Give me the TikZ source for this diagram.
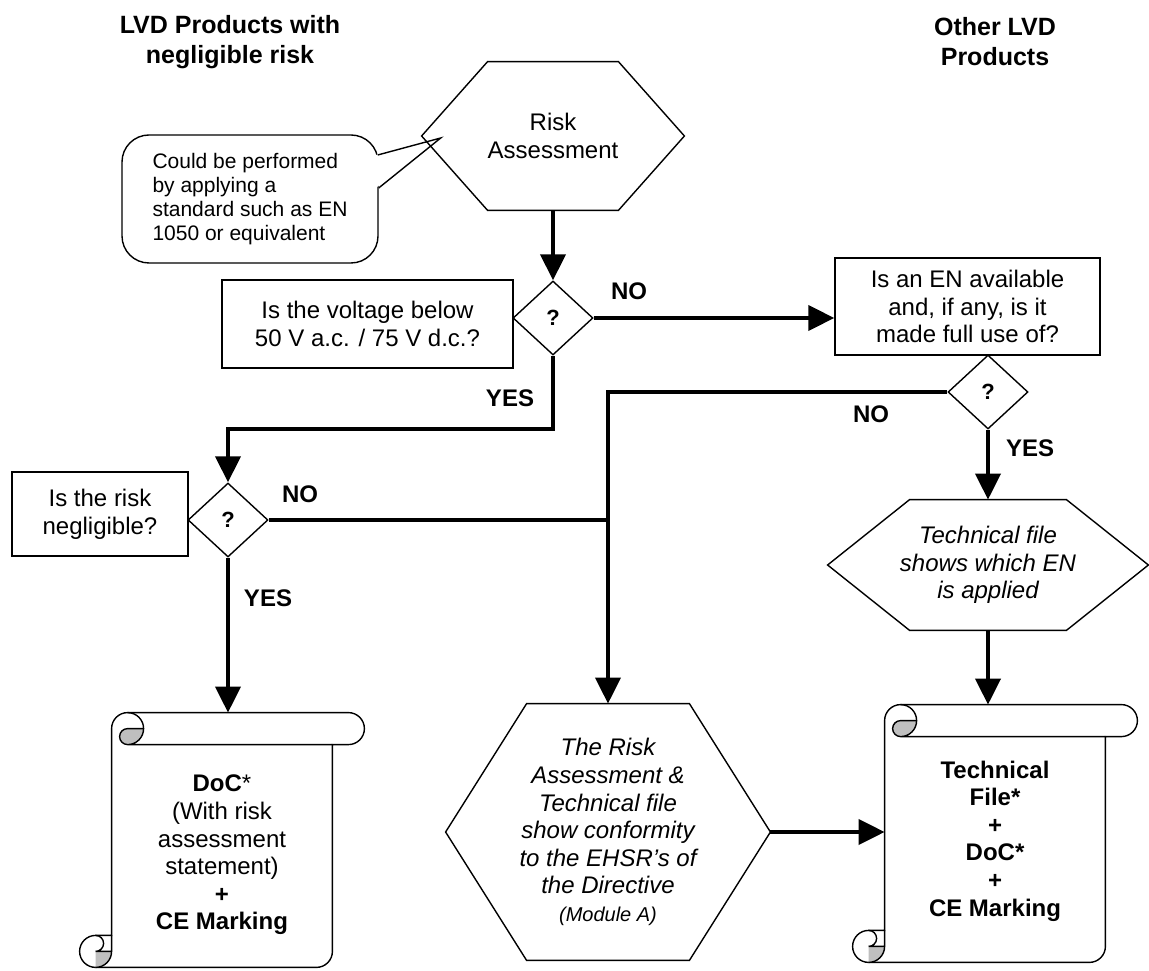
\documentclass[tikz,border=0pt]{standalone}
\usepackage{fontspec}
\setmainfont{Liberation Sans}
\usetikzlibrary{shapes.geometric,arrows.meta,calc}

\tikzset{
  shapeline/.style={line width=0.7pt},
  txt/.style={font=\fontsize{12}{13.8}\selectfont, align=center, inner sep=0pt},
  box/.style={draw, shapeline, rectangle, txt},
  query/.style={draw, shapeline, diamond, inner sep=0pt, minimum width=40pt, minimum height=37pt, font=\fontsize{11}{12}\selectfont\bfseries},
  answer/.style={font=\fontsize{12}{14}\selectfont\bfseries, inner sep=0pt},
  header/.style={font=\fontsize{12.5}{15}\selectfont\bfseries, align=center, inner sep=0pt},
  flow/.style={line width=2pt, -{Triangle[width=12.5pt,length=13pt]}},
  wire/.style={line width=2pt},
  curl/.style={fill=black!25},
}

% hexagon round a node: node name, chamfer
\newcommand{\hexframe}[2]{%
  \draw[shapeline] ($(#1.north west)+(#2,0)$) -- ($(#1.north east)+(-#2,0)$) -- (#1.east)
    -- ($(#1.south east)+(-#2,0)$) -- ($(#1.south west)+(#2,0)$) -- (#1.west) -- cycle;}

% scroll round a node (band and roll 16pt)
\newcommand{\scrollframe}[1]{%
  \draw[shapeline, fill=white] let \p1=(#1.south west), \p2=(#1.north east) in
    (\x1+16pt,\y1+16pt) -- (\x1+16pt,\y2-8pt) arc (180:90:8pt) -- (\x2-8pt,\y2)
    arc (90:-90:8pt) -- (\x2-16pt,\y2-16pt) -- (\x2-16pt,\y1+8pt) arc (0:-90:8pt)
    -- (\x1+8pt,\y1) arc (-90:-270:8pt) -- cycle;
  \fill[curl] let \p1=(#1.south west), \p2=(#1.north east) in
    (\x1+32pt,\y2-8pt) arc (0:-90:8pt) arc (-90:-270:4pt) -- cycle;
  \fill[curl] let \p1=(#1.south west) in
    (\x1+8pt,\y1+8pt) -- (\x1+16pt,\y1+8pt) arc (0:-90:8pt) -- cycle;
  \draw[shapeline] let \p1=(#1.south west), \p2=(#1.north east) in
    (\x1+24pt,\y2) arc (90:-90:8pt) arc (-90:-270:4pt) -- (\x1+32pt,\y2-8pt)
    (\x2-16pt,\y2-16pt) -- (\x1+24pt,\y2-16pt)
    (\x1+8pt,\y1+16pt) arc (90:-90:4pt) -- (\x1+16pt,\y1+8pt)
    (\x1+8pt,\y1) arc (-90:0:8pt) -- (\x1+16pt,\y1+16pt);}

\begin{document}
\begin{tikzpicture}[x=0.5pt, y=0.5pt]
  \useasboundingbox (0,0) rectangle (1149,970);

  \node[header] (hdrL) at (230,928) {LVD Products with\\negligible risk};
  \node[header] (hdrR) at (995,928) {Other LVD\\Products};

  % callout
  \node[draw, shapeline, rounded corners=13.5pt, minimum width=128pt, minimum height=64pt,
        font=\fontsize{10.5}{12}\selectfont, align=left, inner sep=0pt] (note) at (250,771)
        {Could be performed\\by applying a\\standard such as EN\\1050 or equivalent};
  \coordinate (note-tip) at ($(note.east)+(31pt,30.5pt)$);
  \fill[white] ($(note.east)+(-1.5pt,22pt)$) -- (note-tip) -- ($(note.east)+(-1.5pt,5.5pt)$) -- cycle;
  \draw[shapeline] ($(note.east)+(-0.5pt,22pt)$) -- (note-tip) -- ($(note.east)+(0pt,5.5pt)$);

  \node[txt, minimum width=131pt, minimum height=74pt] (ra) at (553,834) {Risk\\Assessment};
  \hexframe{ra}{33pt}

  \node[box, minimum width=145.5pt, minimum height=44pt] (vbox) at (367.5,646) {Is the voltage below\\50 V a.c. / 75 V d.c.?};
  \node[query] (q1) at (553,652) {?};
  \node[box, minimum width=132.5pt, minimum height=48.5pt] (enbox) at (967.5,663.5) {Is an EN available\\and, if any, is it\\made full use of?};
  \node[query] (q2) at (988,578) {?};
  \node[box, minimum width=88pt, minimum height=42pt] (rbox) at (100,456) {Is the risk\\negligible?};
  \node[query] (q3) at (228,450) {?};

  \node[txt, font=\fontsize{12}{13.8}\selectfont\itshape, minimum width=160pt, minimum height=65pt] (tf) at (988,405)
        {Technical file\\shows which EN\\is applied};
  \hexframe{tf}{41pt}
  \node[txt, font=\fontsize{12}{13.8}\selectfont\itshape, minimum width=162pt, minimum height=128pt] (rmt) at (608,138)
        {The Risk\\Assessment \&\\Technical file\\show conformity\\to the EHSR’s of\\the Directive\\{\fontsize{10}{12}\selectfont(Module A)}};
  \hexframe{rmt}{40.5pt}

  % scrolls
  \node[minimum width=142pt, minimum height=127pt, inner sep=0pt] (docL) at (222,130) {};
  \scrollframe{docL}
  \node[txt] (docLtext) at ($(docL.center)+(0,-7.5pt)$)
        {\textbf{DoC}*\\(With risk\\assessment\\statement)\\\textbf{+}\\\textbf{CE Marking}};
  \node[minimum width=142pt, minimum height=128.5pt, inner sep=0pt] (docR) at (995,136.5) {};
  \scrollframe{docR}
  \node[txt, font=\fontsize{12}{13.8}\selectfont\bfseries] (docRtext) at ($(docR.center)+(0,-3.75pt)$)
        {Technical\\File*\\+\\DoC*\\+\\CE Marking};

  % connectors
  \coordinate (yesbend) at (0,541);
  \draw[flow] (ra.south) -- (q1.north);
  \draw[flow] (q1.east) -- (q1.east -| enbox.west);
  \draw[flow] (q1.south) -- (q1.south |- yesbend) -| (q3.north);
  \draw[wire] (q3.east) -- (q3.east -| rmt.north);
  \draw[flow] (q2.west) -| (rmt.north);
  \draw[flow] (q2.south) -- (tf.north);
  \draw[flow] (tf.south) -- (tf.south |- docR.north);
  \draw[flow] (q3.south) -- (q3.south |- docL.north);
  \draw[flow] (rmt.east) -- ($(rmt.east -| docR.west)+(16pt,0)$);

  \node[answer] (no1) at (629,679) {NO};
  \node[answer] (yes1) at (510,572) {YES};
  \node[answer] (no3) at (300,476) {NO};
  \node[answer] (yes3) at (268,372) {YES};
  \node[answer] (no2) at (871,556) {NO};
  \node[answer] (yes2) at (1030,522) {YES};
\end{tikzpicture}
\end{document}
